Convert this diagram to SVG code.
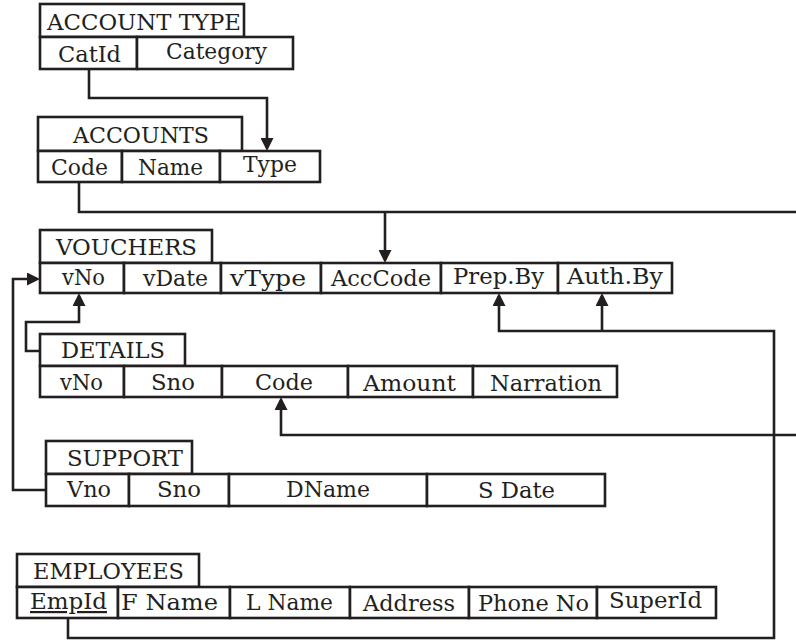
<svg xmlns="http://www.w3.org/2000/svg" width="796" height="640" viewBox="0 0 796 640">
<style>
  .box { fill: #ffffff; stroke: #231f20; stroke-width: 2.6; }
  .t { font-family: "DejaVu Serif", "Liberation Serif", serif; font-size: 22px; fill: #231f20; text-anchor: middle; }
  .c { fill: none; stroke: #231f20; stroke-width: 2.6; stroke-linejoin: miter; }
</style>
<defs>
  <marker id="arr" markerUnits="userSpaceOnUse" markerWidth="14" markerHeight="13" refX="10" refY="6.5" orient="auto">
    <path d="M0,0 L13,6.5 L0,13 Z" fill="#231f20"/>
  </marker>
</defs>
<rect width="796" height="640" fill="#ffffff"/>

<g id="connectors">
  <path class="c" d="M89,69 V98 H267 V148" marker-end="url(#arr)"/>
  <path class="c" d="M79,182 V212 H796"/>
  <path class="c" d="M385,212 V260" marker-end="url(#arr)"/>
  <path class="c" d="M40,351 H26 V322 H79 V296" marker-end="url(#arr)"/>
  <path class="c" d="M46,490 H13 V279 H37" marker-end="url(#arr)"/>
  <path class="c" d="M796,435 H281 V400" marker-end="url(#arr)"/>
  <path class="c" d="M68,618 V638 H774 V331 H499 V296" marker-end="url(#arr)"/>
  <path class="c" d="M602,331 V296" marker-end="url(#arr)"/>
</g>

<g id="account-type">
  <rect class="box" x="40" y="4" width="204" height="33"/>
  <rect class="box" x="40" y="37" width="97" height="32"/>
  <rect class="box" x="137" y="37" width="156" height="32"/>
  <text class="t" x="144" y="30" textLength="194" lengthAdjust="spacingAndGlyphs">ACCOUNT TYPE</text>
  <text class="t" x="89.5" y="62" textLength="63" lengthAdjust="spacingAndGlyphs">CatId</text>
  <text class="t" x="216.5" y="59" textLength="101" lengthAdjust="spacingAndGlyphs">Category</text>
</g>

<g id="accounts">
  <rect class="box" x="38" y="117" width="204" height="34"/>
  <rect class="box" x="38" y="151" width="84" height="31"/>
  <rect class="box" x="122" y="151" width="98" height="31"/>
  <rect class="box" x="220" y="151" width="100" height="31"/>
  <text class="t" x="141" y="143" textLength="136" lengthAdjust="spacingAndGlyphs">ACCOUNTS</text>
  <text class="t" x="79.5" y="175" textLength="57" lengthAdjust="spacingAndGlyphs">Code</text>
  <text class="t" x="170.5" y="175" textLength="65" lengthAdjust="spacingAndGlyphs">Name</text>
  <text class="t" x="270" y="172" textLength="54" lengthAdjust="spacingAndGlyphs">Type</text>
</g>

<g id="vouchers">
  <rect class="box" x="40" y="230" width="172" height="33"/>
  <rect class="box" x="40" y="263" width="84" height="30"/>
  <rect class="box" x="124" y="263" width="97" height="30"/>
  <rect class="box" x="221" y="263" width="100" height="30"/>
  <rect class="box" x="321" y="263" width="120" height="30"/>
  <rect class="box" x="441" y="263" width="117" height="30"/>
  <rect class="box" x="558" y="263" width="114" height="30"/>
  <text class="t" x="126.5" y="255" textLength="141" lengthAdjust="spacingAndGlyphs">VOUCHERS</text>
  <text class="t" x="83.5" y="285" textLength="43" lengthAdjust="spacingAndGlyphs">vNo</text>
  <text class="t" x="175.5" y="286" textLength="65" lengthAdjust="spacingAndGlyphs">vDate</text>
  <text class="t" x="268" y="286" textLength="76" lengthAdjust="spacingAndGlyphs">vType</text>
  <text class="t" x="381" y="286" textLength="100" lengthAdjust="spacingAndGlyphs">AccCode</text>
  <text class="t" x="498.5" y="284" textLength="91" lengthAdjust="spacingAndGlyphs">Prep.By</text>
  <text class="t" x="615" y="284" textLength="96" lengthAdjust="spacingAndGlyphs">Auth.By</text>
</g>

<g id="details">
  <rect class="box" x="40" y="334" width="145" height="32"/>
  <rect class="box" x="40" y="366" width="84" height="31"/>
  <rect class="box" x="124" y="366" width="98" height="31"/>
  <rect class="box" x="222" y="366" width="126" height="31"/>
  <rect class="box" x="348" y="366" width="125" height="31"/>
  <rect class="box" x="473" y="366" width="144" height="31"/>
  <text class="t" x="113" y="358" textLength="104" lengthAdjust="spacingAndGlyphs">DETAILS</text>
  <text class="t" x="81.5" y="390" textLength="43" lengthAdjust="spacingAndGlyphs">vNo</text>
  <text class="t" x="173" y="390" textLength="44" lengthAdjust="spacingAndGlyphs">Sno</text>
  <text class="t" x="284" y="390" textLength="58" lengthAdjust="spacingAndGlyphs">Code</text>
  <text class="t" x="409.5" y="391" textLength="93" lengthAdjust="spacingAndGlyphs">Amount</text>
  <text class="t" x="546" y="391" textLength="112" lengthAdjust="spacingAndGlyphs">Narration</text>
</g>

<g id="support">
  <rect class="box" x="46" y="441" width="146" height="33"/>
  <rect class="box" x="46" y="474" width="83" height="32"/>
  <rect class="box" x="129" y="474" width="100" height="32"/>
  <rect class="box" x="229" y="474" width="198" height="32"/>
  <rect class="box" x="427" y="474" width="178" height="32"/>
  <text class="t" x="125" y="466" textLength="116" lengthAdjust="spacingAndGlyphs">SUPPORT</text>
  <text class="t" x="89" y="497" textLength="44" lengthAdjust="spacingAndGlyphs">Vno</text>
  <text class="t" x="179" y="497" textLength="44" lengthAdjust="spacingAndGlyphs">Sno</text>
  <text class="t" x="328" y="497" textLength="84" lengthAdjust="spacingAndGlyphs">DName</text>
  <text class="t" x="516.5" y="498" textLength="77" lengthAdjust="spacingAndGlyphs">S Date</text>
</g>

<g id="employees">
  <rect class="box" x="17" y="554" width="182" height="33"/>
  <rect class="box" x="17" y="587" width="101" height="31"/>
  <rect class="box" x="118" y="587" width="112" height="31"/>
  <rect class="box" x="230" y="587" width="120" height="31"/>
  <rect class="box" x="350" y="587" width="119" height="31"/>
  <rect class="box" x="469" y="587" width="128" height="31"/>
  <rect class="box" x="597" y="587" width="119" height="31"/>
  <text class="t" x="108.5" y="579" textLength="151" lengthAdjust="spacingAndGlyphs">EMPLOYEES</text>
  <text class="t" x="68.5" y="609" textLength="77" lengthAdjust="spacingAndGlyphs" text-decoration="underline">EmpId</text>
  <text class="t" x="169.5" y="610" textLength="97" lengthAdjust="spacingAndGlyphs">F Name</text>
  <text class="t" x="289.5" y="610" textLength="87" lengthAdjust="spacingAndGlyphs">L Name</text>
  <text class="t" x="409" y="611" textLength="92" lengthAdjust="spacingAndGlyphs">Address</text>
  <text class="t" x="533.5" y="611" textLength="111" lengthAdjust="spacingAndGlyphs">Phone No</text>
  <text class="t" x="655.5" y="608" textLength="93" lengthAdjust="spacingAndGlyphs">SuperId</text>
</g>
</svg>
